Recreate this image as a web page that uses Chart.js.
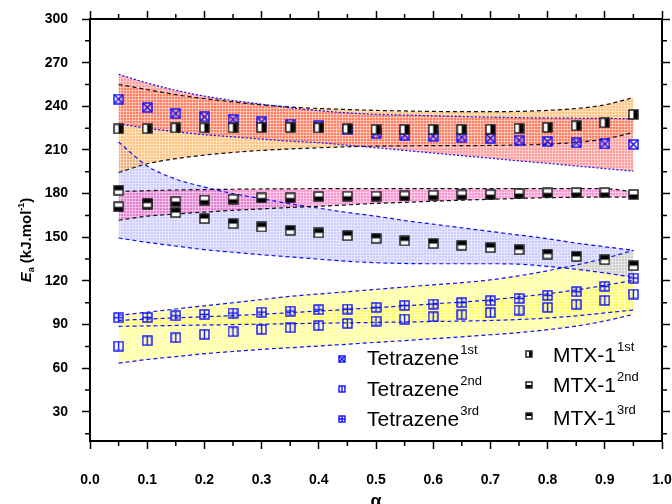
<!DOCTYPE html>
<html>
<head>
<meta charset="utf-8">
<script src="https://cdn.jsdelivr.net/npm/chart.js@4.4.1/dist/chart.umd.min.js"></script>
<style>
  html, body { margin: 0; padding: 0; background: #fff; }
</style>
</head>
<body>
<canvas id="eaChart" width="672" height="504"></canvas>
<script>
// conversion degree
const alpha = [0.05, 0.10, 0.15, 0.20, 0.25, 0.30, 0.35, 0.40, 0.45, 0.50,
               0.55, 0.60, 0.65, 0.70, 0.75, 0.80, 0.85, 0.90, 0.95];

// activation energies (kJ/mol)
const tet1 = [245, 239.2, 235.1, 232.8, 231, 229.3, 227.8, 226.5, 224, 221.3, 220.2, 219.5, 218.8, 218.1, 216.7, 215.8, 214.9, 214.2, 213.8];
const tet2 = [75.2, 78.9, 81, 83.3, 85.1, 86.7, 87.8, 89.4, 90.8, 92.4, 93.8, 95.4, 96.8, 98.2, 100, 101.8, 103.9, 106.6, 111];
const tet3 = [94.7, 94.9, 96.1, 97, 97.9, 98.6, 99.3, 100.2, 100.7, 101.8, 103.2, 104.1, 105.1, 106.4, 108, 110.1, 112.6, 116.3, 122];
const mtx1 = [224.5, 224.7, 225.2, 225.2, 225.2, 225.5, 225.5, 225.2, 224.5, 224.1, 224.1, 224.1, 224.1, 224.3, 224.8, 225.5, 226.6, 228.7, 234.4];
const mtx2 = [170.9, 172.5, 174.5, 175.5, 176.1, 177, 177, 178, 178.2, 178.2, 178.4, 178.9, 179.1, 179.3, 180, 180.5, 180.7, 180.7, 179.4];
const mtx3 = [182.3, 173.5, 167, 162.9, 159.4, 157.1, 154.8, 153, 151.1, 149.3, 147.5, 145.7, 144.5, 142.9, 141.5, 138.5, 136.9, 134.6, 130.5];

// uncertainty bands (upper / lower)
const tet1Up = [262, 256, 251, 247, 244, 241.5, 239, 237, 235.5, 234.5, 234, 233.5, 233, 232.5, 232.2, 232, 231.8, 231.7, 231.5];
const tet1Lo = [228, 225, 222.5, 220.5, 219, 217.5, 216, 215, 213.3, 211.5, 209.7, 207.9, 206.1, 204.3, 202.5, 200.8, 199, 197.2, 195.4];
const mtx1Up = [255, 251.5, 248, 245.3, 243, 241, 239.5, 238.5, 237.8, 237.2, 236.8, 236.5, 236.3, 236.3, 236.5, 237.2, 238.5, 241, 246];
const mtx1Lo = [194.5, 200.5, 204, 206.5, 208.3, 209.7, 210.7, 211.5, 212.2, 212.6, 212.8, 213, 213, 213.1, 213.4, 214, 215.2, 217.5, 222];
const mtx2Up = [181.5, 182, 182.5, 182.8, 183, 183.2, 183.3, 183.4, 183.5, 183.5, 183.5, 183.5, 183.5, 183.5, 183.5, 183.5, 183.5, 183.4, 181.2];
const mtx2Lo = [161.7, 164.5, 166, 167.3, 168.5, 169.5, 170.5, 171.3, 172.3, 173.3, 174, 174.8, 175.5, 176.1, 176.7, 177.2, 177.5, 177.7, 177.5];
const mtx3Up = [215.5, 199, 190, 184.5, 180, 176.5, 173, 170, 167, 164.5, 161.5, 159, 156.5, 154, 151.5, 149, 146, 143.5, 141];
const mtx3Lo = [149.5, 146.5, 144, 141.5, 139.7, 138, 136.5, 135, 133.5, 132.5, 132, 131.8, 131.8, 131.8, 131.5, 130, 128, 125.5, 122.5];
const tet3Up = [96.3, 98.5, 100.7, 102.9, 105, 107.2, 109.4, 111, 112.6, 114.2, 115.8, 117.3, 118.8, 120.7, 123.5, 127, 131, 135.5, 141];
const tet3Lo = [88.8, 89.1, 89.4, 89.7, 90, 90.3, 90.6, 90.9, 91.2, 91.5, 91.8, 92.1, 92.4, 92.8, 93.5, 94.5, 96, 98, 100];
const tet2Up = [92.9, 93.8, 94.6, 95.4, 96.2, 97.1, 98.2, 99.3, 100.4, 101.6, 102.9, 104.2, 105.5, 107, 109, 111.2, 113.8, 117, 120.4];
const tet2Lo = [63.5, 66, 68, 70, 71.5, 73, 74.1, 75.3, 76.5, 77.8, 79, 80.3, 81.6, 83, 84.5, 86.5, 89, 92.5, 97];

// axis ticks
const xTicks = [0, 0.1, 0.2, 0.3, 0.4, 0.5, 0.6, 0.7, 0.8, 0.9, 1.0];
const xMinor = [0.05, 0.15, 0.25, 0.35, 0.45, 0.55, 0.65, 0.75, 0.85, 0.95];
const yTicks = [30, 60, 90, 120, 150, 180, 210, 240, 270, 300];
const yMinor = [15, 45, 75, 105, 135, 165, 195, 225, 255, 285];

const FONT = '"Liberation Sans", Arial, sans-serif';
const BLUE = '#0f0fff';

const pts = arr => arr.map((v, i) => ({ x: alpha[i], y: v }));

// gridded fill like the origin-style pattern fills
function gridFill(color) {
  const c = document.createElement('canvas');
  c.width = 3; c.height = 3;
  const g = c.getContext('2d');
  g.fillStyle = color;
  g.fillRect(0, 0, 3, 3);
  g.fillStyle = 'rgba(255,255,255,0.4)';
  g.fillRect(0, 0, 3, 1);
  g.fillRect(0, 0, 1, 3);
  return g.createPattern(c, 'repeat');
}

// square markers
function marker(kind, s) {
  const c = document.createElement('canvas');
  c.width = s; c.height = s;
  const g = c.getContext('2d');
  const a = 1, b = s - 1, m = s / 2;
  if (kind.startsWith('tet')) {
    g.strokeStyle = BLUE;
    g.lineWidth = 1.4;
    g.beginPath();
    if (kind === 'tet1') { g.moveTo(a, a); g.lineTo(b, b); g.moveTo(b, a); g.lineTo(a, b); }
    if (kind === 'tet2' || kind === 'tet3') { g.moveTo(m, a); g.lineTo(m, b); }
    if (kind === 'tet3') { g.moveTo(a, m); g.lineTo(b, m); }
    g.stroke();
    g.strokeRect(a, a, b - a, b - a);
  } else {
    g.fillStyle = '#fff';
    g.fillRect(a, a, b - a, b - a);
    g.fillStyle = '#000';
    if (kind === 'mtx1') g.fillRect(m, a, b - m, b - a);
    if (kind === 'mtx2') g.fillRect(a, m, b - a, b - m);
    if (kind === 'mtx3') g.fillRect(a, a, b - a, m - a);
    g.strokeStyle = '#222';
    g.lineWidth = 1.5;
    g.strokeRect(a, a, b - a, b - a);
  }
  return c;
}

const series = [
  { key: 'mtx3', data: mtx3, name: 'MTX-1', sup: '3rd' },
  { key: 'mtx2', data: mtx2, name: 'MTX-1', sup: '2nd' },
  { key: 'mtx1', data: mtx1, name: 'MTX-1', sup: '1st' },
  { key: 'tet3', data: tet3, name: 'Tetrazene', sup: '3rd' },
  { key: 'tet2', data: tet2, name: 'Tetrazene', sup: '2nd' },
  { key: 'tet1', data: tet1, name: 'Tetrazene', sup: '1st' }
];

const bands = [
  { up: tet1Up, lo: tet1Lo, line: BLUE, dash: [2, 2], fill: 'rgba(255,60,60,0.5)' },
  { up: mtx1Up, lo: mtx1Lo, line: '#111', dash: [4, 3], fill: 'rgba(255,150,30,0.55)' },
  { up: mtx2Up, lo: mtx2Lo, line: '#111', dash: [4, 3], fill: 'rgba(245,50,170,0.5)' },
  { up: mtx3Up, lo: mtx3Lo, line: BLUE, dash: [4, 3], fill: 'rgba(130,130,255,0.38)' },
  { up: tet3Up, lo: tet3Lo, line: BLUE, dash: [4, 3], fill: 'rgba(255,255,40,0.45)' },
  { up: tet2Up, lo: tet2Lo, line: BLUE, dash: [4, 3], fill: 'rgba(255,255,40,0.45)' }
];

const datasets = [];
series.forEach(s => {
  datasets.push({
    label: s.key,
    data: pts(s.data),
    showLine: false,
    pointStyle: marker(s.key, 11),
    pointRadius: 5,
    order: s.key.startsWith('mtx') ? 0 : 1
  });
});
bands.forEach(b => {
  const common = {
    borderColor: b.line,
    borderWidth: 1.2,
    borderDash: b.dash,
    pointRadius: 0,
    cubicInterpolationMode: 'monotone',
    order: 2
  };
  datasets.push(Object.assign({ data: pts(b.up), fill: '+1', backgroundColor: gridFill(b.fill) }, common));
  datasets.push(Object.assign({ data: pts(b.lo), fill: false }, common));
});

// minor ticks on all four sides
const minorTicks = {
  id: 'minorTicks',
  afterDraw(chart) {
    const { ctx, chartArea: a, scales: { x, y } } = chart;
    ctx.save();
    ctx.strokeStyle = '#000';
    ctx.lineWidth = 1.5;
    ctx.beginPath();
    xMinor.forEach(v => {
      const px = x.getPixelForValue(v);
      ctx.moveTo(px, a.bottom); ctx.lineTo(px, a.bottom + 5);
      ctx.moveTo(px, a.top); ctx.lineTo(px, a.top - 5);
    });
    yMinor.forEach(v => {
      const py = y.getPixelForValue(v);
      ctx.moveTo(a.left, py); ctx.lineTo(a.left - 5, py);
      ctx.moveTo(a.right, py); ctx.lineTo(a.right + 5, py);
    });
    ctx.stroke();
    ctx.restore();
  }
};

// axis titles with sub/superscripts
const axisTitles = {
  id: 'axisTitles',
  afterDraw(chart) {
    const { ctx } = chart;
    ctx.save();
    ctx.fillStyle = '#000';
    ctx.textBaseline = 'alphabetic';
    const parts = [
      { t: 'E', f: 'italic bold 15px ' + FONT, dy: 0 },
      { t: 'a', f: 'bold 9px ' + FONT, dy: 3 },
      { t: ' (kJ.mol', f: 'bold 15px ' + FONT, dy: 0 },
      { t: '-1', f: 'bold 9px ' + FONT, dy: -7 },
      { t: ')', f: 'bold 15px ' + FONT, dy: 0 }
    ];
    let total = 0;
    parts.forEach(p => { ctx.font = p.f; p.w = ctx.measureText(p.t).width; total += p.w; });
    ctx.translate(31, 240);
    ctx.rotate(-Math.PI / 2);
    let cx = -total / 2;
    parts.forEach(p => { ctx.font = p.f; ctx.fillText(p.t, cx, p.dy); cx += p.w; });
    ctx.restore();

    ctx.save();
    ctx.font = 'bold 18px ' + FONT;
    ctx.textAlign = 'center';
    ctx.fillStyle = '#000';
    ctx.fillText('\u03b1', chart.scales.x.getPixelForValue(0.5), 507);
    ctx.restore();
  }
};

// legend inside the plot, two columns
const legendBox = {
  id: 'legendBox',
  afterDraw(chart) {
    const { ctx } = chart;
    const rows = [
      { key: 'tet1', mx: 342, my: 359, tx: 367, ty: 365 },
      { key: 'tet2', mx: 342, my: 389, tx: 367, ty: 396 },
      { key: 'tet3', mx: 342, my: 419, tx: 367, ty: 426 },
      { key: 'mtx1', mx: 529, my: 354, tx: 553, ty: 362 },
      { key: 'mtx2', mx: 529, my: 385, tx: 553, ty: 392 },
      { key: 'mtx3', mx: 529, my: 416, tx: 553, ty: 424.5 }
    ];
    ctx.save();
    ctx.fillStyle = '#000';
    rows.forEach(r => {
      const s = series.find(q => q.key === r.key);
      const m = marker(r.key, 8);
      ctx.drawImage(m, r.mx - 4, r.my - 4);
      ctx.font = '21px ' + FONT;
      ctx.fillText(s.name, r.tx, r.ty);
      const w = ctx.measureText(s.name).width;
      ctx.font = '13px ' + FONT;
      ctx.fillText(s.sup, r.tx + w + 1, r.ty - 11);
    });
    ctx.restore();
  }
};

const tickFont = { family: FONT, size: 14, weight: 'bold' };
const noPad = s => { s.paddingLeft = 0; s.paddingRight = 0; s.paddingTop = 0; s.paddingBottom = 0; };

new Chart(document.getElementById('eaChart'), {
  type: 'line',
  data: { datasets },
  options: {
    responsive: false,
    animation: false,
    layout: { padding: 0 },
    plugins: {
      legend: { display: false },
      tooltip: { enabled: false },
      filler: { drawTime: 'beforeDatasetsDraw' }
    },
    scales: {
      x: {
        type: 'linear', position: 'bottom', min: 0, max: 1,
        afterBuildTicks: s => { s.ticks = xTicks.map(v => ({ value: v })); },
        afterFit: s => { s.height = 63; noPad(s); },
        ticks: { font: tickFont, color: '#000', padding: 23, maxRotation: 0, autoSkip: false,
                 callback: v => v.toFixed(1) },
        grid: { drawOnChartArea: false, tickLength: 8, tickWidth: 1.5, tickColor: '#000' },
        border: { color: '#000', width: 2 }
      },
      x2: {
        type: 'linear', position: 'top', min: 0, max: 1,
        afterBuildTicks: s => { s.ticks = xTicks.map(v => ({ value: v })); },
        afterFit: s => { s.height = 19; noPad(s); },
        ticks: { display: false },
        grid: { drawOnChartArea: false, tickLength: 8, tickWidth: 1.5, tickColor: '#000' },
        border: { color: '#000', width: 2 }
      },
      y: {
        type: 'linear', position: 'left', min: 10, max: 300,
        afterBuildTicks: s => { s.ticks = yTicks.map(v => ({ value: v })); },
        afterFit: s => { s.width = 90; noPad(s); },
        ticks: { font: tickFont, color: '#000', padding: 14, autoSkip: false },
        grid: { drawOnChartArea: false, tickLength: 8, tickWidth: 1.5, tickColor: '#000' },
        border: { color: '#000', width: 2 }
      },
      y2: {
        type: 'linear', position: 'right', min: 10, max: 300,
        afterBuildTicks: s => { s.ticks = yTicks.map(v => ({ value: v })); },
        afterFit: s => { s.width = 10; noPad(s); },
        ticks: { display: false },
        grid: { drawOnChartArea: false, tickLength: 8, tickWidth: 1.5, tickColor: '#000' },
        border: { color: '#000', width: 2 }
      }
    }
  },
  plugins: [minorTicks, axisTitles, legendBox]
});
</script>
</body>
</html>
